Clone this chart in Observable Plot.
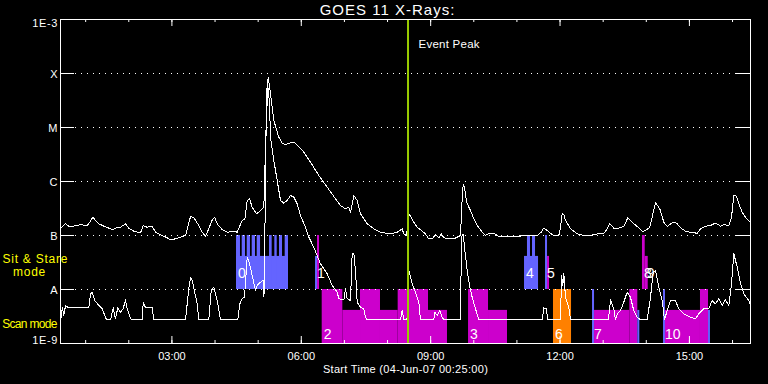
<!DOCTYPE html>
<html>
<head>
<meta charset="utf-8">
<script src="https://cdn.jsdelivr.net/npm/d3@7"></script>
<script src="https://cdn.jsdelivr.net/npm/@observablehq/plot@0.6"></script>
<style>
html, body { margin: 0; padding: 0; background: #000; }
#chart svg { display: block; }
</style>
</head>
<body>
<div id="chart"></div>
<script>
// ---- Data (time in minutes after 00:00 UT on 04-Jun-07, flux in W/m^2) ----
const startMinute = 25;   // 00:25
const endMinute = 985;    // 16:25

const yTickValues = [1e-9, 1e-8, 1e-7, 1e-6, 1e-5, 1e-4, 1e-3];
const yTickLabels = ["1E-9", "A", "B", "C", "M", "X", "1E-3"];

const xHourTicks = [60,120,180,240,300,360,420,480,540,600,660,720,780,840,900,960];
const xMajorTicks = [180, 360, 540, 720, 900];
const xMajorLabels = ["03:00", "06:00", "09:00", "12:00", "15:00"];

const eventPeak = 508.5; // 08:28:30

// upper trace (long wavelength channel)
const longChannel = [[25,1.33e-7],[32,1.65e-7],[36.5,1.49e-7],[43.5,1.49e-7],[52.8,1.58e-7],[62.1,1.53e-7],[66.7,1.84e-7],[69.9,2.18e-7],[73.7,1.90e-7],[78.3,1.65e-7],[85.2,1.49e-7],[92.2,1.37e-7],[96.9,1.28e-7],[101.5,1.37e-7],[108.5,1.42e-7],[115.4,1.65e-7],[120,1.37e-7],[127,1.20e-7],[136.3,1.12e-7],[140,1.53e-7],[145.6,1.42e-7],[152.6,1.49e-7],[157.2,1.15e-7],[164.1,1.03e-7],[173.5,9.07e-8],[178,8.32e-8],[185,8.69e-8],[192,9.30e-8],[198.9,1.0e-7],[202.1,1.42e-7],[205.9,2.25e-7],[210.5,2.13e-7],[217.4,1.53e-7],[222.1,1.15e-7],[226.7,9.58e-8],[231.3,1.33e-7],[236.1,1.95e-7],[239.3,2.18e-7],[243,1.65e-7],[250,1.28e-7],[256.9,1.15e-7],[266.1,1.20e-7],[270.8,1.15e-7],[277.8,1.90e-7],[281.4,1.98e-7],[284.8,4.45e-7],[288,4.78e-7],[291.7,3.34e-7],[297.7,2.52e-7],[303.3,2.90e-7],[307.9,3.34e-7],[310.9,8.80e-6],[314,8.54e-5],[317.2,4.21e-5],[321.8,1.35e-5],[328.7,6.61e-6],[333.5,5.12e-6],[338,4.79e-6],[342.6,5.12e-6],[349.6,5.35e-6],[356.5,4.45e-6],[363.5,3.49e-6],[372.8,2.28e-6],[384.4,1.29e-6],[396.1,7.84e-7],[407.6,4.78e-7],[414.6,3.59e-7],[421.5,3.12e-7],[426.1,3.34e-7],[428.5,2.70e-7],[433.1,5.50e-7],[437.8,4.45e-7],[442.4,2.52e-7],[451.7,1.65e-7],[460.9,1.33e-7],[470.2,1.15e-7],[484.1,1.07e-7],[493.5,1.15e-7],[500.4,1.33e-7],[502.6,1.07e-7],[506.4,1.0e-7],[509.8,2.55e-7],[516.6,1.76e-7],[521.3,1.42e-7],[525.9,1.28e-7],[532.8,1.07e-7],[537.4,8.69e-8],[542.2,8.69e-8],[546.7,1.04e-7],[551.3,9.07e-8],[554.7,1.07e-7],[558.3,9.07e-8],[565.3,8.69e-8],[572.2,8.69e-8],[576.9,9.30e-8],[581.5,1.0e-7],[583.9,5.12e-7],[585.3,8.69e-7],[587.1,7.84e-7],[589.9,4.14e-7],[595.4,2.90e-7],[600,2.04e-7],[604.8,1.53e-7],[611.7,1.15e-7],[616.3,1.0e-7],[620.9,1.10e-7],[627.8,1.10e-7],[634.8,9.58e-8],[646.5,9.58e-8],[660.4,9.58e-8],[669.6,1.0e-7],[688.2,1.0e-7],[693.8,1.15e-7],[697.4,1.37e-7],[702.1,1.24e-7],[706.7,1.10e-7],[711.3,1.0e-7],[718.3,1.0e-7],[720.7,1.42e-7],[723,2.59e-7],[725.3,2.45e-7],[727.6,1.90e-7],[734.6,1.33e-7],[743.9,1.07e-7],[753.1,1.0e-7],[762.4,1.0e-7],[771.7,1.07e-7],[781,1.10e-7],[785.7,1.33e-7],[789.2,1.65e-7],[794.8,1.37e-7],[801.8,1.37e-7],[808.7,1.47e-7],[814.3,2.13e-7],[820.4,1.76e-7],[827.4,1.47e-7],[834.3,1.19e-7],[838.9,1.24e-7],[844.9,1.42e-7],[852.8,4.03e-7],[858.8,3.12e-7],[864.4,1.76e-7],[869.1,1.47e-7],[876.1,1.72e-7],[882.1,1.70e-7],[887.6,1.39e-7],[894.6,1.20e-7],[901.5,1.15e-7],[910.8,1.10e-7],[915.4,1.33e-7],[922.4,1.49e-7],[929.3,1.53e-7],[936.3,1.70e-7],[943.3,1.49e-7],[947.9,1.60e-7],[954.8,1.53e-7],[958.6,2.18e-7],[961.8,5.50e-7],[965.5,5.34e-7],[968.7,3.86e-7],[973.4,2.70e-7],[978,2.18e-7],[985,1.76e-7]];

// lower trace (short wavelength channel)
const shortChannel = [[26.4,3.07e-9],[27.4,4.70e-9],[29.6,3.30e-9],[32,5.06e-9],[36.5,4.58e-9],[64.4,4.58e-9],[66.7,8.32e-9],[69.1,8.91e-9],[72.7,6.25e-9],[78.3,5.06e-9],[83,4.39e-9],[89,2.75e-9],[94.6,2.75e-9],[98.3,4.58e-9],[101.5,2.87e-9],[104.7,4.58e-9],[108.5,3.80e-9],[112.2,4.39e-9],[115.4,6.44e-9],[117.8,4.39e-9],[122.4,2.87e-9],[127,2.75e-9],[138.7,2.75e-9],[140.1,5.82e-9],[143.3,4.58e-9],[152.6,4.58e-9],[154.8,2.75e-9],[198.9,2.75e-9],[203.5,1.03e-8],[205.9,1.65e-8],[208.2,1.47e-8],[215.2,5.43e-9],[217.4,2.75e-9],[231.3,2.75e-9],[234.7,9.58e-9],[238.3,1.10e-8],[243,6.25e-9],[247.6,2.75e-9],[271.7,2.75e-9],[274.5,5.43e-9],[277.8,6.73e-9],[281,7.20e-9],[284.8,3.96e-8],[287,3.37e-8],[291.7,1.82e-8],[296.3,9.58e-9],[298.7,1.19e-8],[303.3,1.37e-8],[307,1.47e-8],[308.1,7.2e-9],[309.6,1.9e-7],[310.2,2.45e-6],[312.6,7.74e-5],[315.8,2.78e-5],[317.2,6.61e-6],[321.8,2.45e-6],[326.5,1.04e-6],[331.1,4.45e-7],[335.7,3.96e-7],[340.4,4.45e-7],[345,5.50e-7],[349.6,5.12e-7],[354.3,3.86e-7],[358.9,2.35e-7],[365.9,1.42e-7],[370.5,9.30e-8],[377.4,6.07e-8],[386.7,2.99e-8],[396.1,1.95e-8],[403,1.19e-8],[410,8.91e-9],[412.2,6.73e-9],[419.2,6.44e-9],[421.5,1.03e-8],[423.9,6.73e-9],[428.5,6.25e-9],[430.8,4.58e-8],[433.1,4.70e-8],[435.4,2.25e-8],[437.8,5.82e-9],[442.4,4.70e-9],[447,4.39e-9],[449.3,3.07e-9],[451.7,2.75e-9],[498,2.75e-9],[500.4,4.08e-9],[502.6,2.75e-9],[507,2.75e-9],[509.6,2.25e-8],[514.3,1.28e-8],[518.9,8.91e-9],[523.5,5.82e-9],[525.9,2.75e-9],[544.4,2.75e-9],[545.8,3.80e-9],[549.1,3.30e-9],[552.7,4.08e-9],[556.1,3.07e-9],[558.3,2.75e-9],[581.5,2.75e-9],[582.9,9.30e-8],[585.3,1.07e-7],[587.1,6.07e-8],[590.8,2.25e-8],[594.5,1.10e-8],[597.8,7.20e-9],[602.4,4.39e-9],[607,2.75e-9],[695.2,2.75e-9],[697.4,4.58e-9],[700.7,4.39e-9],[703,2.75e-9],[720.7,2.75e-9],[722.1,1.82e-8],[723.9,1.19e-8],[725.3,1.95e-8],[727.6,7.20e-9],[732.2,4.70e-9],[734.6,2.75e-9],[787.4,2.75e-9],[790.2,6.44e-9],[794.8,4.39e-9],[797.2,2.75e-9],[799.6,3.55e-9],[804.1,4.08e-9],[808.7,5.82e-9],[813.4,8.91e-9],[818,7.20e-9],[822.6,4.08e-9],[827.4,3.07e-9],[832,2.75e-9],[841.3,2.75e-9],[845.9,7.20e-9],[849.6,2.09e-8],[852.8,2.25e-8],[857.4,1.10e-8],[862.2,6.25e-9],[865.3,2.75e-9],[869.1,4.08e-9],[873.7,6.25e-9],[880.6,6.25e-9],[885.2,4.39e-9],[892.2,3.55e-9],[901.5,3.07e-9],[908.5,2.87e-9],[913.1,3.55e-9],[920,4.39e-9],[927,4.39e-9],[931.7,6.25e-9],[936.3,5.43e-9],[940.9,6.73e-9],[945.6,5.06e-9],[950.2,6.44e-9],[954.8,5.06e-9],[958.1,1.10e-8],[961.8,4.58e-8],[966.5,2.59e-8],[971.1,1.28e-8],[975.7,8.32e-9],[982.7,6.25e-9],[985,5.06e-9]];

// observing-mode segments (type: P = pointing, R = raster, S = special)
const segStart = [269.9,269.9,277.8,284.8,291.7,298.7,315.8,323.2,329.7,337.6, 379.8,382.6, 389.1,417.8,442.4,470.2,494.8,537.0, 592.7,620.5, 670.6,674.7,681.7, 699.8,702.6, 710.9, 765.2,768.0,817.1,828.2, 834.7,838.5, 864.0,866.7,915.4,926.6];
const segEnd   = [342.2,275.4,282.4,289.3,296.3,303.3,319.5,326.5,333.9,342.2, 382.6,385.4, 417.8,442.4,470.2,494.8,537.0,563.4, 620.5,646.9, 690.1,678.9,685.9, 702.6,705.4, 736.0, 768.0,817.1,828.2,831.0, 838.5,842.7, 866.7,915.4,926.6,929.3];
const segBand  = ["sit","sit","sit","sit","sit","sit","sit","sit","sit","sit", "sit","sit", "scan","scan","scan","scan","scan","scan", "scan","scan", "sit","sit","sit", "sit","sit", "scan", "scan","scan","scan","scan", "sit","sit", "scan","scan","scan","scan"];
const segLevel = ["part","full","full","full","full","full","full","full","full","full", "part","full", "full","part","full","part","full","part", "full","part", "part","full","full", "full","part", "full", "full","part","full","part", "full","part", "full","part","full","part"];
const segType  = ["P","P","P","P","P","P","P","P","P","P", "P","R", "R","R","R","R","R","R", "R","R", "P","P","P", "P","R", "S", "P","R","R","P", "R","R", "P","R","R","P"];

const blockLabels    = ["0","1","2","3","4","5","6","7","8","9","10"];
const blockLabelTime = [269.9,379.8,389.1,592.7,670.6,699.8,710.9,765.2,834.7,838.5,864.0];
const blockLabelBand = ["sit","sit","scan","scan","sit","sit","scan","scan","sit","sit","scan"];

// ---- Build tables ----
const bandFloor = {sit: 1e-8, scan: 1e-9};
const levelRatio = {full: 10, part: 4.1};
const segments = segStart.map((s, i) => ({s, e: segEnd[i], band: segBand[i], level: segLevel[i], type: segType[i]}));
const labels = blockLabels.map((t, i) => ({t, x: blockLabelTime[i], band: blockLabelBand[i]}));
const longData = longChannel.map(([t, f]) => ({t, f}));
const shortData = shortChannel.map(([t, f]) => ({t, f}));
const gridLevels = yTickValues.slice(1, -1);
const yTicks = yTickValues.map((v, i) => ({v, label: yTickLabels[i]}));
const xLabels = xMajorTicks.map((v, i) => ({v, label: xMajorLabels[i]}));

const W = 768, H = 384, ML = 60, MR = 18, MT = 19, MB = 41;
const frameW = W - ML - MR, frameH = H - MT - MB;
const font = "Liberation Sans, Arial, sans-serif";

const chart = Plot.plot({
  width: W, height: H,
  marginLeft: ML, marginRight: MR, marginTop: MT, marginBottom: MB,
  style: {background: "#000", color: "#fff", fontFamily: font, fontSize: "11px"},
  x: {domain: [startMinute, endMinute], axis: null},
  y: {type: "log", domain: [1e-9, 1e-3], axis: null},
  color: {type: "categorical", domain: ["P", "R", "S"], range: ["#6464ff", "#cc00cc", "#ff8000"]},
  marks: [
    Plot.rect(segments, {
      x1: "s", x2: "e",
      y1: d => bandFloor[d.band],
      y2: d => bandFloor[d.band] * levelRatio[d.level],
      fill: "type"
    }),
    // dotted grid + inward ticks
    Plot.ruleY(gridLevels, {stroke: "#fff", strokeDasharray: "1,5", insetLeft: 15, insetRight: 14}),
    Plot.ruleY(gridLevels, {stroke: "#fff", insetRight: frameW - 14}),
    Plot.ruleY(gridLevels, {stroke: "#fff", insetLeft: frameW - 14}),
    Plot.ruleX(xHourTicks, {stroke: "#fff", insetBottom: frameH - 3}),
    Plot.ruleX(xHourTicks, {stroke: "#fff", insetTop: frameH - 3}),
    Plot.ruleX(xMajorTicks, {stroke: "#fff", insetBottom: frameH - 7}),
    Plot.ruleX(xMajorTicks, {stroke: "#fff", insetTop: frameH - 7}),
    // traces
    Plot.line(longData, {x: "t", y: "f", stroke: "#fff", strokeWidth: 1, shapeRendering: "crispEdges"}),
    Plot.line(shortData, {x: "t", y: "f", stroke: "#fff", strokeWidth: 1, shapeRendering: "crispEdges"}),
    // event peak
    Plot.ruleX([eventPeak], {stroke: "#99cc00", strokeWidth: 2}),
    Plot.text([eventPeak], {x: d => d, text: () => "Event Peak", frameAnchor: "top", textAnchor: "start", lineAnchor: "bottom", dx: 10.5, dy: 28.7, fill: "#fff", fontSize: 11.5}),
    // block numbers
    Plot.text(labels.filter(d => d.band === "sit"), {x: "x", y: d => bandFloor[d.band], text: "t", textAnchor: "start", lineAnchor: "bottom", dx: 1.5, dy: -12, fill: "#fff", fontSize: 14}),
    Plot.text(labels.filter(d => d.band === "scan"), {x: "x", y: d => bandFloor[d.band], text: "t", textAnchor: "start", lineAnchor: "bottom", dx: 1.5, dy: -4.7, fill: "#fff", fontSize: 14}),
    Plot.frame({stroke: "#fff"}),
    // y tick labels
    Plot.text(yTicks.slice(1, -1), {y: "v", text: "label", frameAnchor: "left", textAnchor: "end", dx: -3, dy: 1, fill: "#fff", fontSize: 11}),
    Plot.text(yTicks.slice(-1), {y: "v", text: "label", frameAnchor: "left", textAnchor: "end", lineAnchor: "top", dx: -2.5, fill: "#fff", fontSize: 11}),
    Plot.text(yTicks.slice(0, 1), {y: "v", text: "label", frameAnchor: "left", textAnchor: "end", lineAnchor: "bottom", dx: -2.5, fill: "#fff", fontSize: 11}),
    // x tick labels
    Plot.text(xLabels, {x: "v", text: "label", frameAnchor: "bottom", lineAnchor: "top", dy: 8.5, fill: "#fff", fontSize: 11}),
    // axis title
    Plot.text(["Start Time (04-Jun-07 00:25:00)"], {text: d => d, frameAnchor: "bottom", lineAnchor: "middle", dy: 25.5, fill: "#fff", fontSize: 11}),
    // chart title
    Plot.text(["GOES 11 X-Rays:"], {text: d => d, frameAnchor: "top", lineAnchor: "bottom", dx: -18, dy: -4.5, fill: "#fff", fontSize: 15}),
    // mode labels
    Plot.text(["Sit & Stare"], {y: [bandFloor.sit * 3.16], text: d => d, frameAnchor: "left", textAnchor: "start", dx: -58, dy: -3, fill: "#ffff00", fontSize: 12}),
    Plot.text(["mode"], {y: [bandFloor.sit * 3.16], text: d => d, frameAnchor: "left", textAnchor: "start", dx: -47.5, dy: 9.5, fill: "#ffff00", fontSize: 12}),
    Plot.text(["Scan mode"], {y: [bandFloor.scan * 3.16], text: d => d, frameAnchor: "left", textAnchor: "start", dx: -58.3, dy: 8, fill: "#ffff00", fontSize: 12})
  ]
});

// letter spacing (not a Plot text option) applied to the rendered labels
const spacing = {
  "GOES 11 X-Rays:": 1, "Sit & Stare": 0.75, "mode": 0.75, "Scan mode": -0.7,
  "Start Time (04-Jun-07 00:25:00)": 0.3, "Event Peak": 0.25, "1E-3": 0.6, "1E-9": 0.6
};
d3.select(chart).selectAll("text").each(function () {
  const s = spacing[this.textContent];
  if (s != null) this.setAttribute("letter-spacing", s);
});
document.getElementById("chart").appendChild(chart);
</script>
</body>
</html>
